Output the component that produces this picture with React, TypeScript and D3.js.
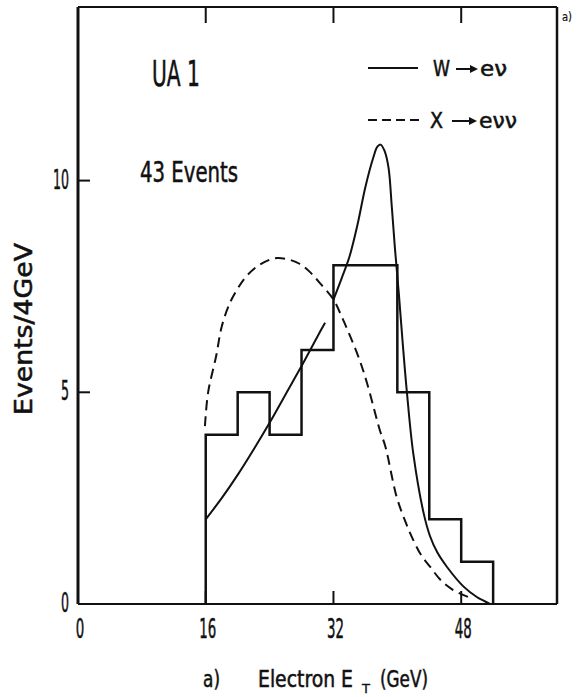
import React, { useEffect, useRef } from "react";
import * as d3 from "d3";

// axis ticks
const xTicks = [0, 16, 32, 48];
const yTicks = [0, 5, 10];

// histogram, 4 GeV bins
const binStart = [16, 20, 24, 28, 32, 36, 40, 44, 48];
const binCount = [4, 5, 4, 6, 8, 8, 5, 2, 1];
const binWidth = 4;

// W -> e nu curve (null = gap in the drawn line)
const wEt = [16, 18, 20, 22, 24, 26, 28, 30, 30.95, 31.5, 32, 33, 34, 35, 36, 37, 37.5, 37.9, 38.4, 38.9, 39.3, 39.7, 40.2, 40.7, 41.2, 42, 43.3, 44.1, 45, 46.2, 48.3, 50, 50.8, 51.6];
const wEvents = [2.0, 2.5, 3.05, 3.65, 4.28, 4.95, 5.62, 6.32, 6.64, null, 7.19, 7.68, 8.2, 8.95, 9.85, 10.55, 10.8, 10.85, 10.7, 10.3, 9.4, 8.4, 7.3, 6.1, 5.0, 3.55, 2.14, 1.6, 1.22, 0.88, 0.41, 0.16, 0.08, 0];

// X -> e nu nu curve
const xEt = [15.9, 16.3, 17.3, 18, 19, 20, 21, 22.4, 24, 25, 26.5, 27.8, 29, 30.3, 32, 33, 34.1, 35.2, 36.2, 37.8, 38.5, 39.9, 41, 42, 43, 44.1, 45.5, 47, 49.1];
const xEvents = [4.2, 5.0, 5.85, 6.55, 7.1, 7.45, 7.72, 7.97, 8.13, 8.17, 8.13, 8.03, 7.85, 7.58, 7.19, 6.8, 6.32, 5.8, 5.22, 4.11, 3.72, 2.54, 1.95, 1.51, 1.15, 0.88, 0.55, 0.33, 0.15];

const FONT = "'DejaVu Sans Condensed', 'DejaVu Sans', sans-serif";

function addText(g: any, s: string, x: number, y: number, size: number, len: number, anchor = "start") {
    return g.append("text")
        .attr("x", x)
        .attr("y", y)
        .attr("font-size", size)
        .attr("font-family", FONT)
        .attr("text-anchor", anchor)
        .attr("textLength", len)
        .attr("lengthAdjust", "spacingAndGlyphs")
        .attr("fill", "#111")
        .attr("stroke", "#111")
        .attr("stroke-width", 0.5)
        .text(s);
}

function drawArrow(svg: any, x1: number, x2: number, y: number) {
    svg.append("line")
        .attr("x1", x1).attr("x2", x2 - 6)
        .attr("y1", y).attr("y2", y)
        .attr("stroke", "#111").attr("stroke-width", 2);
    svg.append("path")
        .attr("d", `M${x2 - 8},${y - 4}L${x2},${y}L${x2 - 8},${y + 4}Z`)
        .attr("fill", "#111");
}

function App() {
    const svgRef = useRef<SVGSVGElement>(null);
    const width = 584;
    const height = 697;

    useEffect(() => {
        const svg = d3.select(svgRef.current);
        svg.selectAll("*").remove();

        const x = d3.scaleLinear().domain([0, 60]).range([78, 557]);
        const y = d3.scaleLinear().domain([0, 14.1]).range([604, 7]);

        // frame
        const frame = svg.append("g").attr("stroke", "#111").attr("fill", "none");
        frame.append("line").attr("x1", x(0)).attr("x2", x(0)).attr("y1", y(14.1)).attr("y2", y(0)).attr("stroke-width", 3);
        frame.append("line").attr("x1", x(0)).attr("x2", x(60)).attr("y1", y(14.1)).attr("y2", y(14.1)).attr("stroke-width", 2);
        frame.append("line").attr("x1", x(60)).attr("x2", x(60)).attr("y1", y(14.1)).attr("y2", y(0)).attr("stroke-width", 2.5);
        frame.append("line").attr("x1", x(0)).attr("x2", x(60)).attr("y1", y(0)).attr("y2", y(0)).attr("stroke-width", 2);

        // inner ticks
        xTicks.filter(t => t > 0).forEach(t => {
            frame.append("line").attr("x1", x(t)).attr("x2", x(t)).attr("y1", y(14.1)).attr("y2", y(14.1) + 16).attr("stroke-width", 2);
            frame.append("line").attr("x1", x(t)).attr("x2", x(t)).attr("y1", y(0)).attr("y2", y(0) - 13).attr("stroke-width", 2);
        });
        yTicks.filter(t => t > 0).forEach(t => {
            frame.append("line").attr("x1", x(0)).attr("x2", x(0) + 12).attr("y1", y(t)).attr("y2", y(t)).attr("stroke-width", 2);
        });

        // tick labels
        xTicks.forEach(t => {
            addText(svg, String(t), x(t) + 2, 638, 27, String(t).length * 8.5, "middle");
        });
        yTicks.forEach(t => {
            addText(svg, String(t), 69, y(t) + 8, 27, String(t).length * 8, "end");
        });

        // histogram outline
        const pts: [number, number][] = [[binStart[0], 0]];
        binStart.forEach((b, i) => {
            pts.push([b, binCount[i]]);
            pts.push([b + binWidth, binCount[i]]);
        });
        pts.push([binStart[binStart.length - 1] + binWidth, 0]);
        const stepLine = d3.line<[number, number]>().x(d => x(d[0])).y(d => y(d[1]));
        svg.append("path")
            .attr("d", stepLine(pts))
            .attr("fill", "none")
            .attr("stroke", "#111")
            .attr("stroke-width", 2.5)
            .attr("stroke-linejoin", "miter");

        // curves
        const curve = d3.line<[number, number | null]>()
            .defined(d => d[1] != null)
            .x(d => x(d[0]))
            .y(d => y(d[1] as number))
            .curve(d3.curveCatmullRom.alpha(0.5));

        svg.append("path")
            .attr("d", curve(wEt.map((v, i) => [v, wEvents[i]])))
            .attr("fill", "none")
            .attr("stroke", "#111")
            .attr("stroke-width", 2);

        svg.append("path")
            .attr("d", curve(xEt.map((v, i) => [v, xEvents[i]])))
            .attr("fill", "none")
            .attr("stroke", "#111")
            .attr("stroke-width", 2)
            .attr("stroke-dasharray", "10,6");

        // legend
        svg.append("line").attr("x1", 368).attr("x2", 418).attr("y1", 68).attr("y2", 68)
            .attr("stroke", "#111").attr("stroke-width", 2);
        addText(svg, "W", 433, 76, 21, 17);
        drawArrow(svg, 456, 478, 69);
        addText(svg, "eν", 480, 76, 21, 27);

        svg.append("line").attr("x1", 368).attr("x2", 421).attr("y1", 120).attr("y2", 120)
            .attr("stroke", "#111").attr("stroke-width", 2).attr("stroke-dasharray", "9,5");
        addText(svg, "X", 430, 128, 22, 13);
        drawArrow(svg, 452, 477, 121);
        addText(svg, "eνν", 479, 128, 22, 38);

        // annotations
        addText(svg, "UA 1", 152, 86, 35, 48);
        addText(svg, "43 Events", 140, 182, 28, 98);
        addText(svg, "a)", 562, 21, 12, 10).attr("stroke-width", 0.2);

        // axis titles
        addText(svg, "Events/4GeV", 0, 0, 25, 172, "middle")
            .attr("transform", "translate(32,329) rotate(-90)");
        addText(svg, "a)", 203, 687, 23, 17);
        addText(svg, "Electron E", 258, 687, 23, 95);
        addText(svg, "T", 362, 693, 13, 8).attr("stroke-width", 0.3);
        addText(svg, "(GeV)", 380, 687, 23, 48);
    }, []);

    return (
        <svg
            ref={svgRef}
            width={width}
            height={height}
            style={{ position: "absolute", left: 0, top: 0, background: "#fff" }}
        />
    );
}

export default App;
